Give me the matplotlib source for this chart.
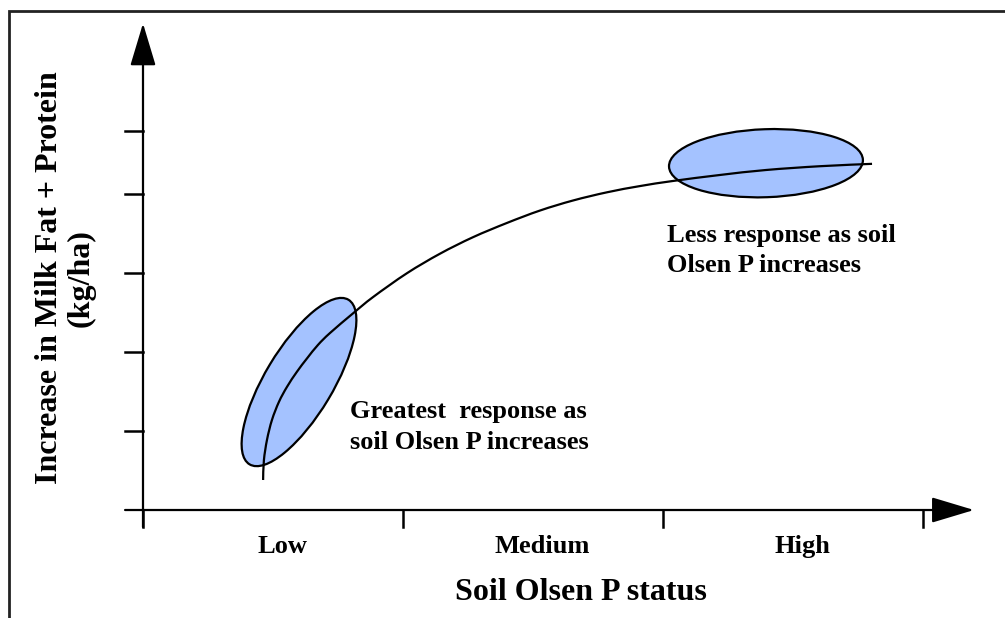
import matplotlib
matplotlib.use('Agg')
import matplotlib.pyplot as plt
from matplotlib.patches import Ellipse, PathPatch
from matplotlib.path import Path
from matplotlib.transforms import ScaledTranslation

plt.rcParams['font.family'] = 'Liberation Serif'
plt.rcParams['font.weight'] = 'bold'

# conceptual response curve (x: soil Olsen P status, y: response units)
curve_x = [0.462, 0.465, 0.477, 0.496, 0.523, 0.554, 0.592, 0.631, 0.673, 0.719,
           0.808, 0.885, 1.015, 1.142, 1.269, 1.400, 1.527, 1.654, 1.785, 1.912,
           2.038, 2.219, 2.396, 2.604, 2.804]
curve_y = [0.38, 0.63, 0.89, 1.14, 1.37, 1.56, 1.75, 1.92, 2.09, 2.24,
           2.49, 2.696, 2.997, 3.244, 3.453, 3.634, 3.791, 3.918, 4.022, 4.101,
           4.165, 4.241, 4.304, 4.352, 4.382]

status_labels = ['Low', 'Medium', 'High']
status_pos = [0.535, 1.535, 2.535]
x_ticks = [0, 1, 2, 3]
y_ticks = [1, 2, 3, 4, 4.8]

# highlighted regions: centre, width/height (inches), angle
ellipse_centres = [(0.60, 1.62), (2.396, 4.39)]
ellipse_sizes = [(1.92, 0.68), (1.94, 0.68)]
ellipse_angles = [59, 2]

notes = ['Greatest  response as\nsoil Olsen P increases',
         'Less response as soil\nOlsen P increases']
note_pos = [(0.796, 1.05), (2.015, 3.28)]

fig = plt.figure(figsize=(10.05, 6.18), dpi=100)
ax = fig.add_axes([0, 0, 1, 1])
ax.set_xlim(-0.55, 3.3154)
ax.set_ylim(-1.367, 6.456)
ax.axis('off')

# outer frame (top and left)
ax.plot([0.009, 0.009, 1.0], [0.0, 0.982, 0.982], transform=ax.transAxes,
        color='#222222', lw=2, solid_joinstyle='miter')

# axes with arrow heads
arrow = dict(arrowstyle='-|>,head_length=2.66,head_width=0.8', mutation_scale=10,
             lw=1.6, color='black', shrinkA=0, shrinkB=0)
ax.annotate('', xy=(0, 6.16), xytext=(0, -0.215), arrowprops=arrow)
ax.annotate('', xy=(3.196, 0), xytext=(-0.069, 0), arrowprops=arrow)

for t in x_ticks:
    ax.plot([t, t], [0, -0.215], color='black', lw=1.8)
for t in y_ticks:
    ax.plot([-0.069, 0], [t, t], color='black', lw=1.8)

for lab, p in zip(status_labels, status_pos):
    ax.text(p, -0.456, lab, ha='center', va='center', fontsize=19, fontweight='bold')

ax.text(1.685, -1.04, 'Soil Olsen P status', ha='center', va='center',
        fontsize=23, fontweight='bold')
ax.text(-0.300, 2.94, 'Increase in Milk Fat + Protein\n(kg/ha)', rotation=90,
        ha='center', va='center', multialignment='center', fontsize=23,
        fontweight='bold', linespacing=1.12)

for (cx, cy), (w, h), ang in zip(ellipse_centres, ellipse_sizes, ellipse_angles):
    tr = fig.dpi_scale_trans + ScaledTranslation(cx, cy, ax.transData)
    ax.add_patch(Ellipse((0, 0), w, h, angle=ang, transform=tr,
                         facecolor='#A4C2FF', edgecolor='black', lw=1.6, zorder=2))

# smooth the read points with Catmull-Rom -> cubic Bezier segments
pts = list(zip(curve_x, curve_y))
verts = [pts[0]]
codes = [Path.MOVETO]
for i in range(len(pts) - 1):
    p0 = pts[i - 1] if i > 0 else pts[i]
    p1, p2 = pts[i], pts[i + 1]
    p3 = pts[i + 2] if i + 2 < len(pts) else pts[i + 1]
    c1 = (p1[0] + (p2[0] - p0[0]) / 6, p1[1] + (p2[1] - p0[1]) / 6)
    c2 = (p2[0] - (p3[0] - p1[0]) / 6, p2[1] - (p3[1] - p1[1]) / 6)
    verts += [c1, c2, p2]
    codes += [Path.CURVE4] * 3
ax.add_patch(PathPatch(Path(verts, codes), facecolor='none', edgecolor='black',
                       lw=1.6, zorder=3))

for txt, (px, py) in zip(notes, note_pos):
    ax.text(px, py, txt, ha='left', va='center', fontsize=19, fontweight='bold',
            linespacing=1.4)

fig.savefig('out.png', dpi=100)
